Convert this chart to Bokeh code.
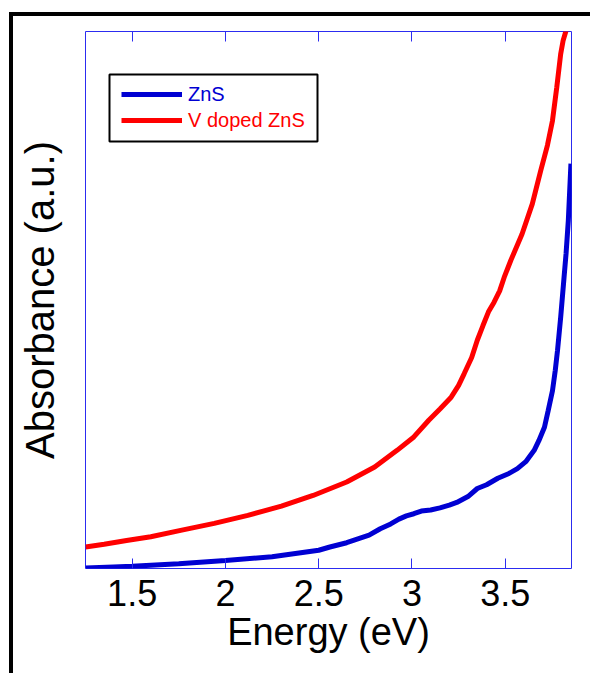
from bokeh.plotting import figure
from bokeh.models import FixedTicker, LinearAxis, Range1d, Legend, LegendItem, BoxAnnotation
from bokeh.embed import file_html
from bokeh.resources import INLINE

# ---- data ----
energy_zns = [1.25, 1.40, 1.50, 1.75, 2.00, 2.25, 2.50, 2.56, 2.65, 2.71, 2.77, 2.83,
              2.886, 2.93, 2.97, 3.01, 3.05, 3.10, 3.15, 3.20, 3.24, 3.30, 3.35, 3.40,
              3.46, 3.52, 3.565, 3.61, 3.655, 3.68, 3.71, 3.73, 3.753, 3.768, 3.78,
              3.797, 3.815, 3.826, 3.838, 3.852]
abs_zns = [0.001, 0.003, 0.004, 0.009, 0.015, 0.022, 0.034, 0.040, 0.048, 0.055, 0.062, 0.074,
           0.083, 0.092, 0.098, 0.102, 0.107, 0.109, 0.113, 0.118, 0.123, 0.134, 0.149, 0.156,
           0.168, 0.177, 0.186, 0.199, 0.220, 0.238, 0.263, 0.294, 0.331, 0.369, 0.406,
           0.468, 0.542, 0.587, 0.648, 0.754]

energy_vzns = [1.25, 1.35, 1.47, 1.60, 1.76, 1.94, 2.12, 2.30, 2.47, 2.65, 2.80, 2.92,
               3.01, 3.09, 3.15, 3.21, 3.25, 3.28, 3.32, 3.35, 3.38, 3.41, 3.44, 3.47,
               3.494, 3.53, 3.59, 3.645, 3.69, 3.726, 3.753, 3.776, 3.797, 3.81, 3.826, 3.83]
abs_vzns = [0.040, 0.045, 0.052, 0.059, 0.071, 0.084, 0.099, 0.116, 0.136, 0.161, 0.189, 0.220,
            0.245, 0.276, 0.297, 0.319, 0.341, 0.363, 0.393, 0.425, 0.452, 0.478, 0.496, 0.517,
            0.542, 0.574, 0.623, 0.679, 0.741, 0.788, 0.834, 0.896, 0.958, 0.983, 1.002, 1.009]

x_ticks = [1.5, 2, 2.5, 3, 3.5]
x_tick_labels = ["1.5", "2", "2.5", "3", "3.5"]
series_labels = ["ZnS", "V doped ZnS"]
x_title = "Energy (eV)"
y_title = "Absorbance (a.u.)"

FONT = "Liberation Sans"
AXIS_BLUE = "#2c2cf0"
ZNS_BLUE = "#0000d2"
V_RED = "#ff0000"

p = figure(width=590, height=673, output_backend="svg", toolbar_location=None,
           x_range=Range1d(1.25, 3.855), y_range=Range1d(0, 1),
           min_border_left=85, min_border_right=19, min_border_top=31, min_border_bottom=105,
           background_fill_color="white", border_fill_alpha=0)
# cropped outer black frame of the original figure (drawn behind the canvas)
p.styles = {
    "background-color": "white",
    "background-image": "linear-gradient(black, black), linear-gradient(black, black)",
    "background-size": "4px 100%, 100% 4px",
    "background-position": "9px 12px, 9px 12px",
    "background-repeat": "no-repeat",
}
p.grid.visible = False
p.outline_line_color = AXIS_BLUE
p.outline_line_width = 1

overrides = {t: s for t, s in zip(x_ticks, x_tick_labels)}

xa = p.xaxis[0]
xa.ticker = FixedTicker(ticks=x_ticks)
xa.major_label_overrides = overrides
xa.axis_line_color = None
xa.major_tick_in = 10
xa.major_tick_out = 0
xa.major_tick_line_color = AXIS_BLUE
xa.minor_tick_in = 0
xa.minor_tick_out = 0
xa.major_label_text_font = FONT
xa.major_label_text_font_size = "36px"
xa.major_label_text_color = "black"
xa.major_label_standoff = 11
xa.axis_label = x_title
xa.axis_label_text_font = FONT
xa.axis_label_text_font_size = "38px"
xa.axis_label_text_font_style = "normal"
xa.axis_label_text_color = "black"
xa.axis_label_standoff = 2

top = LinearAxis(ticker=FixedTicker(ticks=x_ticks), axis_line_color=None,
                 major_tick_in=10, major_tick_out=0, major_tick_line_color=AXIS_BLUE,
                 minor_tick_in=0, minor_tick_out=0,
                 major_label_text_color=None, major_label_standoff=0)
p.add_layout(top, "above")

ya = p.yaxis[0]
ya.ticker = FixedTicker(ticks=[])
ya.axis_line_color = None
ya.major_tick_in = 0
ya.major_tick_out = 0
ya.minor_tick_in = 0
ya.minor_tick_out = 0
ya.major_label_text_color = None
ya.major_label_standoff = 0
ya.axis_label = y_title
ya.axis_label_text_font = FONT
ya.axis_label_text_font_size = "40px"
ya.axis_label_text_font_style = "normal"
ya.axis_label_text_color = "black"
ya.axis_label_standoff = 24

r_zns = p.line(energy_zns, abs_zns, line_color=ZNS_BLUE, line_width=5)
r_v = p.line(energy_vzns, abs_vzns, line_color=V_RED, line_width=5)

# legend frame
p.add_layout(BoxAnnotation(left=109, right=317, top=74, bottom=141,
                           left_units="canvas", right_units="canvas",
                           top_units="canvas", bottom_units="canvas",
                           fill_alpha=0, line_color="black", line_width=2, line_alpha=1))

for lab, rend, col, vy in [(series_labels[0], r_zns, ZNS_BLUE, 462),
                           (series_labels[1], r_v, V_RED, 436)]:
    lg = Legend(items=[LegendItem(label=lab, renderers=[rend])], location=(36, vy),
                padding=0, margin=0, spacing=0, border_line_color=None,
                background_fill_alpha=0, glyph_width=61, glyph_height=24,
                label_height=24, label_standoff=6,
                label_text_font=FONT, label_text_font_size="20px", label_text_color=col)
    p.add_layout(lg, "center")

open("out.html", "w").write(file_html(p, INLINE))
